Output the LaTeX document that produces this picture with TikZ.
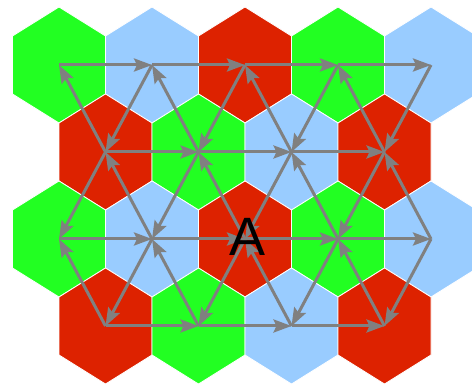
\documentclass[tikz,border=0pt]{standalone}
\usepackage{fontspec}
\usepackage{tikz}
\usetikzlibrary{arrows.meta}
\newfontfamily\labfont{Liberation Sans}
\definecolor{hgreen}{HTML}{22FF22}
\definecolor{hblue}{HTML}{99CCFF}
\definecolor{hred}{HTML}{DD2200}
\definecolor{edge}{HTML}{808080}

\begin{document}
\begin{tikzpicture}[x=1pt,y=-1pt,
  hx/.style={draw=white,line width=0.8pt},
  arr/.style={draw=edge,line width=3pt,
    -{Stealth[length=18pt,width=13pt,inset=3pt]}}]
  \useasboundingbox (0,0) rectangle (472,385);
  \clip (0,0) rectangle (472,385);

  % the hex tiling, four rows, three colours
  \foreach \x/\y/\c in {59/65/hgreen, 152/65/hblue, 245/65/hred, 338/65/hgreen, 431/65/hblue,
      105.5/152/hred, 198.5/152/hgreen, 291.5/152/hblue, 384.5/152/hred,
      59/239/hgreen, 152/239/hblue, 245/239/hred, 338/239/hgreen, 431/239/hblue,
      105.5/326/hred, 198.5/326/hgreen, 291.5/326/hblue, 384.5/326/hred}{
    \filldraw[hx,fill=\c] (\x,\y) +(0,-58) -- +(46.5,-29) -- +(46.5,29) -- +(0,58)
      -- +(-46.5,29) -- +(-46.5,-29) -- cycle;
  }

  % lattice points at the hex centres
  \foreach \r/\y in {1/65, 3/239}{
    \foreach \c in {1,...,5}{
      \coordinate (V\r\c) at ({59+(\c-1)*93},\y);
    }
  }
  \foreach \r/\y in {2/152, 4/326}{
    \foreach \c in {1,...,4}{
      \coordinate (V\r\c) at ({105.5+(\c-1)*93},\y);
    }
  }

  % rows
  \foreach \r in {1,3}{
    \foreach \c [evaluate=\c as \n using {int(\c+1)}] in {1,...,4}{
      \draw[arr] (V\r\c) -- (V\r\n);
    }
  }
  \foreach \r in {2,4}{
    \foreach \c [evaluate=\c as \n using {int(\c+1)}] in {1,...,3}{
      \draw[arr] (V\r\c) -- (V\r\n);
    }
  }
  % slanted edges
  \foreach \r/\s in {1/2, 3/4}{
    \foreach \c [evaluate=\c as \n using {int(\c+1)}] in {1,...,4}{
      \draw[arr] (V\s\c) -- (V\r\c);
      \draw[arr] (V\r\n) -- (V\s\c);
    }
  }
  \foreach \c [evaluate=\c as \n using {int(\c+1)}] in {1,...,4}{
    \draw[arr] (V2\c) -- (V3\c);
    \draw[arr] (V3\n) -- (V2\c);
  }

  \node[anchor=base,inner sep=0pt,font=\labfont\fontsize{54}{54}\selectfont]
    (lblA) at (247.5,256) {A};
\end{tikzpicture}
\end{document}
